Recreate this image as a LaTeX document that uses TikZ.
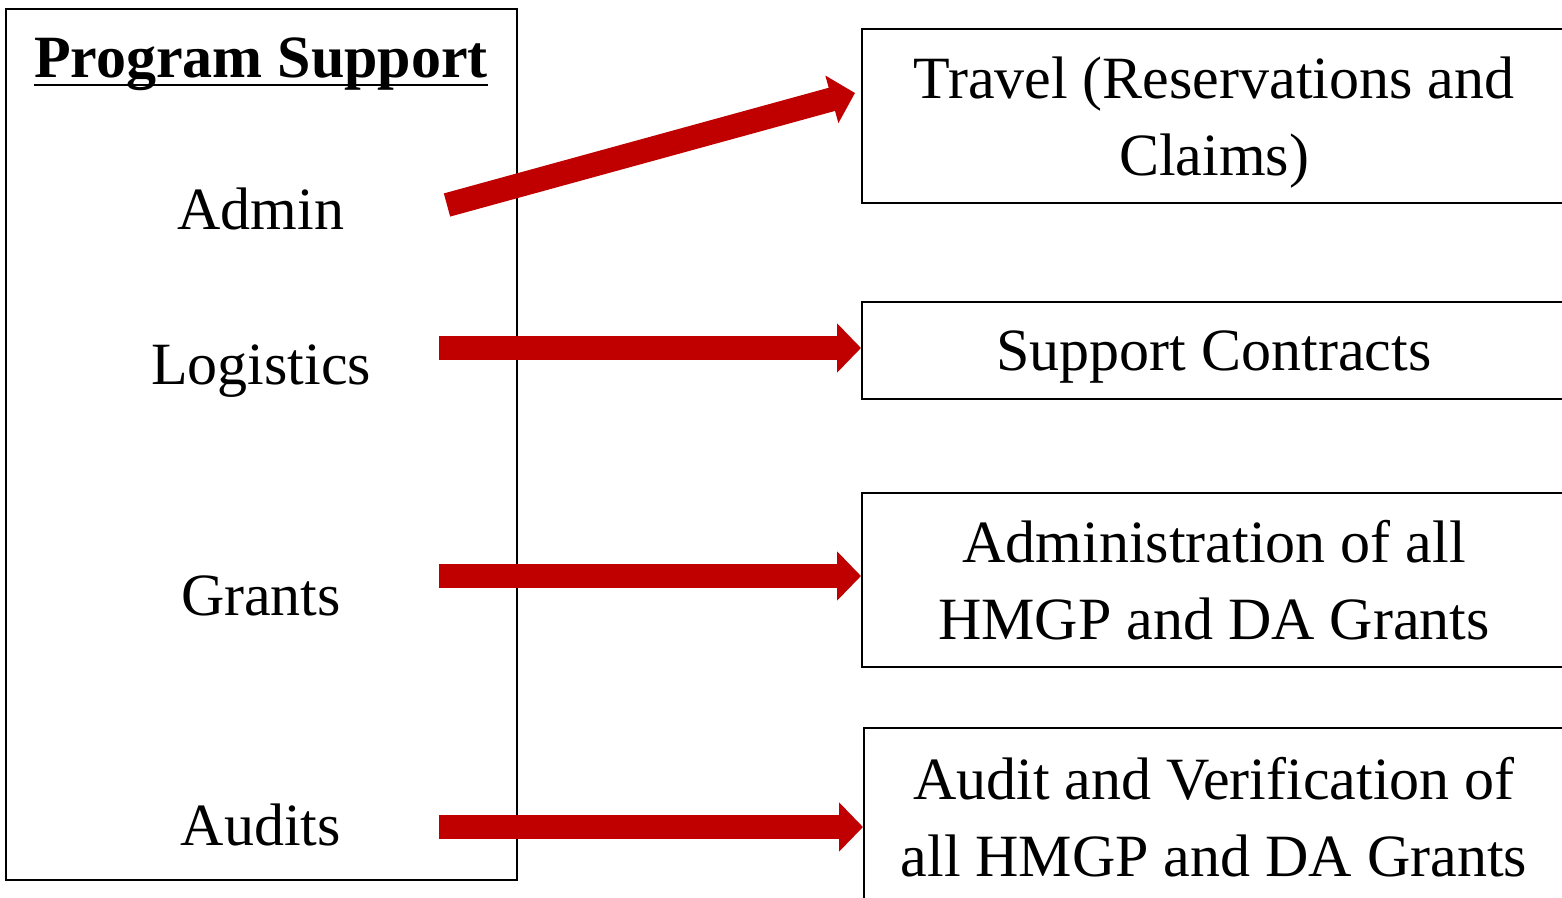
\documentclass[tikz,border=0pt]{standalone}
\usepackage{fontspec}
\setmainfont{Liberation Serif}
\usetikzlibrary{arrows.meta}
\definecolor{arrowred}{HTML}{C00000}
\begin{document}
\begin{tikzpicture}[x=0.5pt,y=-0.5pt,
  lbl/.style={anchor=base,font=\fontsize{30}{38}\selectfont,inner sep=0pt},
  rbox/.style={draw=black,line width=1pt,minimum width=354pt,inner sep=0pt},
  rtext/.style={align=center,font=\fontsize{30}{38.5}\selectfont,inner sep=0pt},
  bigarrow/.style={draw=arrowred,line width=12pt,
    -{Triangle[width=24pt,length=12pt]}}]
\useasboundingbox (0,0) rectangle (1562,898);
% left box
\node[draw=black,line width=1pt,minimum width=255.5pt,minimum height=435.5pt,inner sep=0pt] (left) at (261.5,444.5) {};
\node[lbl,font=\fontsize{30}{38}\selectfont\bfseries] (title) at (261,78) {Program Support};
\draw[line width=1.4pt] ([yshift=-3.5pt]title.base west) -- ([yshift=-3.5pt]title.base east);
\node[lbl] (admin) at (261,230) {Admin};
\node[lbl] (logistics) at (261,385) {Logistics};
\node[lbl] (grants) at (261,615) {Grants};
\node[lbl] (audits) at (261,845) {Audits};
% right boxes
\node[rbox,minimum height=87pt] (travel) at (1216,116) {};
\node[rbox,minimum height=48.5pt] (contracts) at (1216,350.5) {};
\node[rbox,minimum height=87pt] (adminall) at (1216,580) {};
\node[rbox,minimum height=96pt] (auditall) at (1218,824) {};
\node[rtext,yshift=-3.5pt] (travelt) at (1214,116) {Travel (Reservations and\\Claims)};
\node[rtext,yshift=-3.5pt] (contractst) at (1214,350.5) {Support Contracts};
\node[rtext] (adminallt) at (1214,580) {Administration of all\\HMGP and DA Grants};
\node[rtext,yshift=3.5pt] (auditallt) at (1214,824) {Audit and Verification of\\all HMGP and DA Grants};
% arrow ends
\coordinate (tA) at (447,205);
\coordinate (hA) at (855,93);
\coordinate (tL) at (439,348);
\coordinate (tG) at (439,576);
\coordinate (tU) at (439,827);
\draw[bigarrow] (tA) -- (hA);
\draw[bigarrow] (tL) -- (tL -| contracts.west);
\draw[bigarrow] (tG) -- (tG -| adminall.west);
\draw[bigarrow] (tU) -- (tU -| auditall.west);
\end{tikzpicture}
\end{document}
